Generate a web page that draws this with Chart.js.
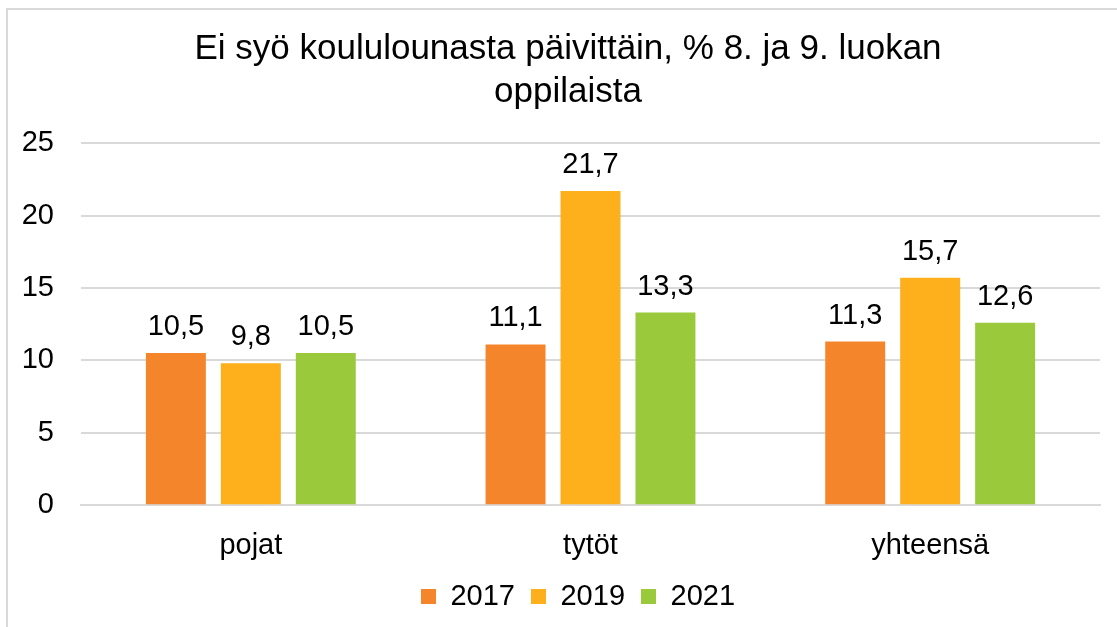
<!DOCTYPE html>
<html lang="fi">
<head>
<meta charset="UTF-8">
<title>Ei syö koululounasta</title>
<script src="https://cdn.jsdelivr.net/npm/chart.js"></script>
<style>
    html, body {
        margin: 0;
        padding: 0;
        background: #ffffff;
        overflow: hidden;
    }
    .frame {
        position: absolute;
        left: 6px;
        top: 8px;
        width: 1130px;
        height: 640px;
        border: 2px solid #d9d9d9;
    }
    .wrap {
        position: absolute;
        left: 0;
        top: 0;
        width: 1117px;
        height: 627px;
    }
</style>
</head>
<body>
<div class="frame"></div>
<div class="wrap"><canvas id="chart"></canvas></div>
<script>
    const categories = ['pojat', 'tytöt', 'yhteensä'];
    const years = ['2017', '2019', '2021'];
    const values2017 = [10.5, 11.1, 11.3];
    const values2019 = [9.8, 21.7, 15.7];
    const values2021 = [10.5, 13.3, 12.6];
    const yTicks = [0, 5, 10, 15, 20, 25];
    const colors = ['#f5852a', '#fdaf1c', '#9aca3c'];

    const font = 'Arial, "Liberation Sans", sans-serif';

    // arvot pylväiden yläpuolelle
    const valueLabels = {
        id: 'valueLabels',
        afterDatasetsDraw(chart) {
            const ctx = chart.ctx;
            ctx.save();
            ctx.font = '29px ' + font;
            ctx.fillStyle = '#000';
            ctx.textAlign = 'center';
            ctx.textBaseline = 'alphabetic';
            chart.data.datasets.forEach((ds, i) => {
                chart.getDatasetMeta(i).data.forEach((bar, j) => {
                    const txt = ds.data[j].toFixed(1).replace('.', ',');
                    ctx.fillText(txt, bar.x, bar.y - 18);
                });
            });
            ctx.restore();
        }
    };

    // selitteen väljät välit vaakasuunnassa, mutta matala laatikko
    const legendTweak = {
        id: 'legendTweak',
        beforeLayout(chart) {
            const lg = chart.legend;
            if (lg && !lg._tweaked) {
                const fit = lg.fit;
                lg.fit = function () {
                    fit.call(this);
                    this.height -= 12;
                };
                lg._tweaked = true;
            }
        },
        afterLayout(chart) {
            const lg = chart.legend;
            lg.top -= 12;
            lg.bottom += 12;
            lg.left += 28;
            lg.right += 28;
            // otsikko keskitetään kehyksen mukaan
            chart.titleBlock.left += 36;
        }
    };

    new Chart(document.getElementById('chart'), {
        type: 'bar',
        data: {
            labels: categories,
            datasets: [
                { label: years[0], data: values2017, backgroundColor: colors[0] },
                { label: years[1], data: values2019, backgroundColor: colors[1] },
                { label: years[2], data: values2021, backgroundColor: colors[2] }
            ]
        },
        options: {
            responsive: true,
            maintainAspectRatio: false,
            animation: false,
            datasets: {
                bar: { barPercentage: 0.8, categoryPercentage: 0.662 }
            },
            layout: { padding: { left: 0, right: 17, top: 28, bottom: 6 } },
            plugins: {
                title: {
                    display: true,
                    text: ['Ei syö koululounasta päivittäin, % 8. ja 9. luokan', 'oppilaista'],
                    color: '#000',
                    font: { family: font, size: 35, weight: 'normal', lineHeight: 1.23 },
                    padding: { top: 0, bottom: 29 }
                },
                legend: {
                    position: 'bottom',
                    labels: {
                        color: '#000',
                        font: { family: font, size: 29 },
                        boxWidth: 15,
                        boxHeight: 15,
                        padding: 16
                    }
                },
                tooltip: { enabled: false }
            },
            scales: {
                x: {
                    grid: { display: false },
                    border: { display: true, color: '#d9d9d9', width: 2 },
                    ticks: { color: '#000', font: { family: font, size: 29 }, padding: 15 }
                },
                y: {
                    min: 0,
                    max: 25,
                    afterBuildTicks(scale) {
                        scale.ticks = yTicks.map(v => ({ value: v }));
                    },
                    afterFit(scale) {
                        scale.width = 81;
                    },
                    grid: { color: '#d9d9d9', lineWidth: 2, drawTicks: false },
                    border: { display: false },
                    ticks: { color: '#000', font: { family: font, size: 29 }, padding: 27 }
                }
            }
        },
        plugins: [valueLabels, legendTweak]
    });
</script>
</body>
</html>
